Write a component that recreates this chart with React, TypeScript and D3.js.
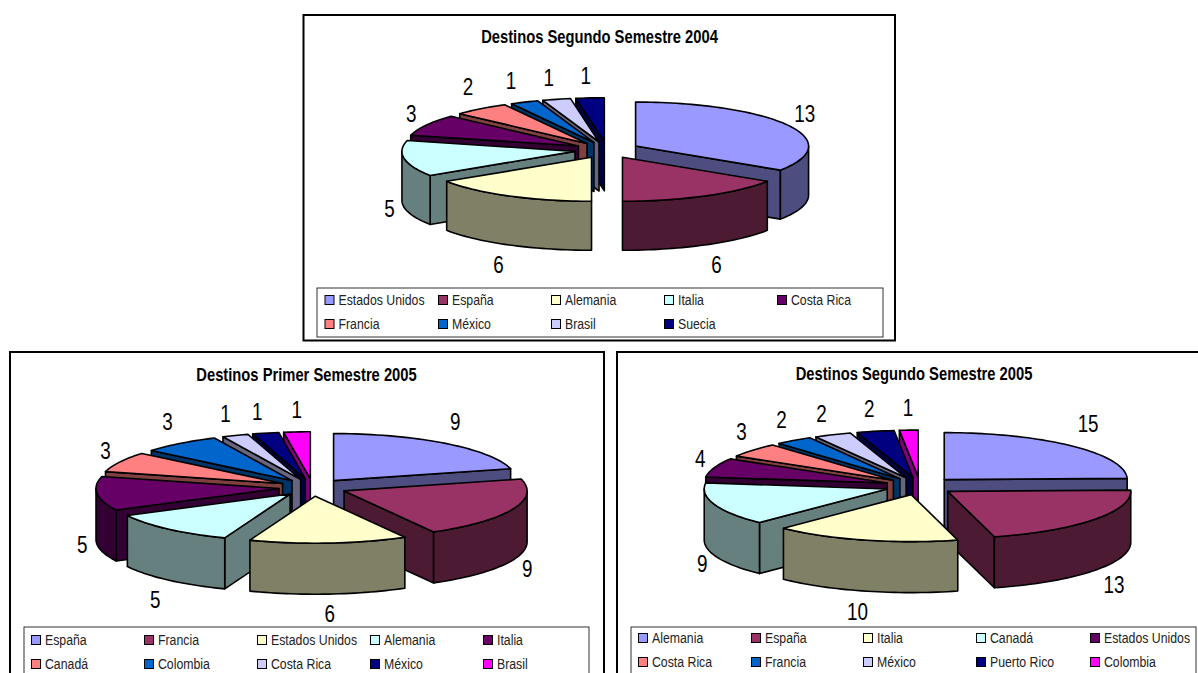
import React from "react";
import * as d3 from "d3";

const TOP_COLORS = ["#9999FF", "#993366", "#FFFFCC", "#CCFFFF", "#660066", "#FF8080", "#0066CC", "#CCCCFF", "#000080", "#FF00FF"];

const title2004 = "Destinos Segundo Semestre 2004";
const categories2004 = ["Estados Unidos", "España", "Alemania", "Italia", "Costa Rica", "Francia", "México", "Brasil", "Suecia"];
const values2004 = [13, 6, 6, 5, 3, 2, 1, 1, 1];

const titleA2005 = "Destinos Primer Semestre 2005";
const categoriesA2005 = ["España", "Francia", "Estados Unidos", "Alemania", "Italia", "Canadá", "Colombia", "Costa Rica", "México", "Brasil"];
const valuesA2005 = [9, 9, 6, 5, 5, 3, 3, 1, 1, 1];

const titleB2005 = "Destinos Segundo Semestre 2005";
const categoriesB2005 = ["Alemania", "España", "Italia", "Canadá", "Estados Unidos", "Costa Rica", "Francia", "México", "Puerto Rico", "Colombia"];
const valuesB2005 = [15, 13, 10, 9, 4, 3, 2, 2, 2, 1];

const FONT = "'Liberation Sans', Arial, sans-serif";
const NARROW = 0.82;

type Layout = {
  frame: [number, number, number, number];
  legend: [number, number, number, number];
  titleX: number; titleY: number;
  cx: number; cy: number; rx: number; ry: number; depth: number; explode: number;
  legendXs: number[]; legendYs: number[];
  nudges: [number, number][];
};

function NarrowText({ x, y, size, anchor, weight, fill, children }: { x: number; y: number; size: number; anchor?: string; weight?: string; fill?: string; children: React.ReactNode }) {
  return (
    <text transform={`translate(${x},${y}) scale(${NARROW},1)`} textAnchor={anchor || "start"} dominantBaseline="central" fontFamily={FONT} fontSize={size} fontWeight={weight || "normal"} fill={fill || "#000"}>
      {children}
    </text>
  );
}

function Pie3D({ title, categories, values, l }: { title: string; categories: string[]; values: number[]; l: Layout }) {
  const x = d3.scaleLinear().domain([-1, 1]).range([l.cx - l.rx, l.cx + l.rx]);
  const y = d3.scaleLinear().domain([-1, 1]).range([l.cy - l.ry, l.cy + l.ry]);
  const ef = l.explode / l.rx;
  const arcs = d3.pie<number>().sort(null).value((d) => d)(values);
  const line = d3.line<[number, number]>();

  const slices = arcs.map((a, i) => {
    const mid = (a.startAngle + a.endAngle) / 2;
    const px = (f: number, t: number) => x(ef * Math.sin(mid) + f * Math.sin(t));
    const py = (f: number, t: number) => y(-ef * Math.cos(mid) - f * Math.cos(t));
    const apex: [number, number] = [px(0, 0), py(0, 0)];
    const sample = (t0: number, t1: number) => {
      const n = Math.max(2, Math.ceil(Math.abs(t1 - t0) / 0.03));
      return d3.range(n + 1).map((k) => {
        const t = t0 + ((t1 - t0) * k) / n;
        return [px(1, t), py(1, t)] as [number, number];
      });
    };
    const rim = sample(a.startAngle, a.endAngle);
    const top = line([apex, ...rim])! + "Z";
    const down = (p: [number, number]): [number, number] => [p[0], p[1] + l.depth];
    const faces: string[] = [];
    const eps = 1e-6;
    if (Math.sin(a.startAngle) < -eps) {
      const e = rim[0];
      faces.push(line([apex, e, down(e), down(apex)])! + "Z");
    }
    if (Math.sin(a.endAngle) > eps) {
      const e = rim[rim.length - 1];
      faces.push(line([apex, e, down(e), down(apex)])! + "Z");
    }
    const w0 = Math.max(a.startAngle, Math.PI / 2);
    const w1 = Math.min(a.endAngle, (3 * Math.PI) / 2);
    if (w1 > w0) {
      const seg = sample(w0, w1);
      faces.push(line([...seg, ...seg.slice().reverse().map(down)])! + "Z");
    }
    const fc = d3.rgb(TOP_COLORS[i]);
    const side = d3.rgb(fc.r * 0.5, fc.g * 0.5, fc.b * 0.5).formatHex();
    const c = Math.cos(mid), s = Math.sin(mid);
    const lx = apex[0] + (l.rx + 16) * s + l.nudges[i][0];
    const ly = apex[1] - (l.ry + 23) * c + (c < 0 ? l.depth : 0) + l.nudges[i][1];
    return { i, key: categories[i], value: values[i], top, faces, side, color: TOP_COLORS[i], order: c, lx, ly };
  });
  const ordered = slices.slice().sort((a, b) => b.order - a.order);
  const [fx, fy, fw, fh] = l.frame;
  const [gx, gy, gw, gh] = l.legend;

  return (
    <g>
      <rect x={fx} y={fy} width={fw} height={fh} fill="#fff" stroke="#000" strokeWidth={2} />
      <NarrowText x={l.titleX} y={l.titleY} size={18} anchor="middle" weight="bold">{title}</NarrowText>
      {ordered.map((s) => (
        <g key={s.key} stroke="#000" strokeWidth={1.6} strokeLinejoin="round">
          {s.faces.map((d, k) => <path key={k} d={d} fill={s.side} />)}
          <path d={s.top} fill={s.color} />
        </g>
      ))}
      {slices.map((s) => (
        <NarrowText key={s.key} x={s.lx} y={s.ly} size={23} anchor="middle">{s.value}</NarrowText>
      ))}
      <rect x={gx} y={gy} width={gw} height={gh} fill="#fff" stroke="#333" strokeWidth={1} />
      {categories.map((c, i) => {
        const lx = l.legendXs[i % l.legendXs.length];
        const ly = l.legendYs[Math.floor(i / l.legendXs.length)];
        return (
          <g key={c}>
            <rect x={lx} y={ly - 4.5} width={9} height={9} fill={TOP_COLORS[i]} stroke="#000" strokeWidth={1} />
            <NarrowText x={lx + 13.5} y={ly} size={15} fill="#222">{c}</NarrowText>
          </g>
        );
      })}
    </g>
  );
}

const layout2004: Layout = {
  frame: [303.5, 15, 591.5, 325.5], legend: [317, 288, 566, 49], titleX: 599.5, titleY: 36,
  cx: 607, cy: 150, rx: 173, ry: 44, depth: 49, explode: 32.5,
  legendXs: [325, 438.5, 551.5, 664.5, 777.5], legendYs: [300, 324],
  nudges: [[3, 0], [4, 0], [-3, 0], [1, -3], [-1, 0], [-3, -4], [-7, 0], [-4, 1], [-3, 1]],
};
const layoutA2005: Layout = {
  frame: [10, 352, 594, 340], legend: [24, 627, 565, 70], titleX: 306.5, titleY: 374,
  cx: 312.8, cy: 487.5, rx: 183, ry: 47, depth: 51, explode: 34,
  legendXs: [31.5, 144.5, 257.5, 370.5, 483.5], legendYs: [640, 664],
  nudges: [[0, -3], [0, 0], [0, -3], [-2, 3], [1, -2], [0, -1], [-3, -3], [-4, 0], [-5, 1], [1, 1]],
};
const layoutB2005: Layout = {
  frame: [617, 352, 600, 340], legend: [631, 627, 565, 70], titleX: 914, titleY: 373,
  cx: 920, cy: 486, rx: 183, ry: 47, depth: 51, explode: 34.7,
  legendXs: [638.5, 751.5, 863.5, 976.5, 1090.5], legendYs: [638, 662],
  nudges: [[5, -6], [7, 0], [-3, -2], [3, 1], [1, -1], [1, -4], [-3, -2], [-5, 0], [-3, 0], [0, 1]],
};

export default function App() {
  return (
    <svg width={1198} height={673} viewBox="0 0 1198 673" style={{ position: "absolute", left: 0, top: 0, display: "block", background: "#fff" }}>
      <Pie3D title={title2004} categories={categories2004} values={values2004} l={layout2004} />
      <Pie3D title={titleA2005} categories={categoriesA2005} values={valuesA2005} l={layoutA2005} />
      <Pie3D title={titleB2005} categories={categoriesB2005} values={valuesB2005} l={layoutB2005} />
    </svg>
  );
}
